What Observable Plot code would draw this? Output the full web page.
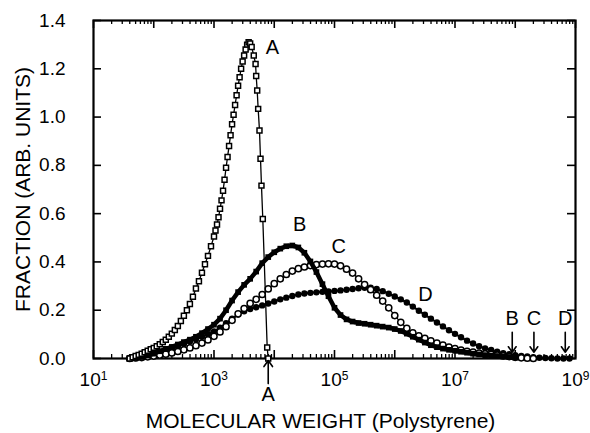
<!DOCTYPE html>
<html>
<head>
<meta charset="utf-8">
<script src="https://cdn.jsdelivr.net/npm/d3@7"></script>
<script src="https://cdn.jsdelivr.net/npm/@observablehq/plot@0.6"></script>
<style>
  html, body { margin: 0; padding: 0; background: #fff; }
</style>
</head>
<body>
<div id="chart"></div>
<script>
// ---- Data (log10 of molecular weight, fraction) ----
const logM_A = [1.60,1.65,1.70,1.75,1.80,1.85,1.90,1.95,2.00,2.05,2.10,2.15,2.20,2.25,2.30,2.35,2.40,2.45,2.50,2.55,2.60,2.65,2.70,2.75,2.80,2.85,2.90,2.95,3.00,
  3.025,3.05,3.075,3.10,3.125,3.15,3.175,3.20,3.225,3.25,3.275,3.30,3.325,3.35,3.375,3.40,3.425,3.45,3.475,3.50,3.525,3.55,3.575,3.60,
  3.625,3.66,3.69,3.70,3.717,3.733,3.755,3.772,3.788,3.81,3.883,3.90];
const frac_A = [0.000,0.005,0.010,0.015,0.020,0.026,0.032,0.038,0.044,0.051,0.059,0.068,0.078,0.090,0.103,0.118,0.135,0.155,0.177,0.200,0.226,0.256,0.290,0.320,0.355,0.390,0.425,0.465,0.505,
  0.530,0.555,0.585,0.620,0.655,0.695,0.740,0.790,0.835,0.880,0.925,0.970,1.010,1.050,1.090,1.130,1.165,1.200,1.230,1.255,1.280,1.300,1.310,1.305,
  1.290,1.255,1.220,1.170,1.110,1.034,0.944,0.827,0.716,0.578,0.046,0.000];

const logM_grid = [1.6,1.7,1.8,1.9,2.0,2.1,2.2,2.3,2.4,2.5,2.6,2.7,2.8,2.9,3.0,3.1,3.2,3.3,3.4,3.5,3.6,3.7,3.8,3.9,4.0,4.1,4.2,4.3,4.4,4.5,
  4.6,4.7,4.8,4.9,5.0,5.1,5.2,5.3,5.4,5.5,5.6,5.7,5.8,5.9,6.0,6.1,6.2,6.3,6.4,6.5,6.6,6.7,6.8,6.9,7.0,7.1,7.2,7.3,7.4,7.5,
  7.6,7.7,7.8,7.9,8.0,8.1,8.2,8.3,8.4,8.5,8.6,8.7,8.8,8.9];

const frac_B = [0.000,0.003,0.006,0.012,0.020,0.030,0.040,0.048,0.058,0.068,
  0.078,0.090,0.105,0.122,0.140,0.165,0.200,0.240,0.275,0.305,
  0.330,0.360,0.395,0.420,0.440,0.455,0.465,0.468,0.460,0.438,
  0.402,0.358,0.308,0.258,0.210,0.180,0.162,0.153,0.147,0.144,
  0.140,0.136,0.132,0.128,0.122,0.114,0.103,0.090,0.078,0.066,
  0.055,0.047,0.041,0.036,0.032,0.028,0.024,0.020,0.017,0.014,
  0.012,0.010,0.008,0.006,0.004];

const frac_C = [0.000,0.002,0.004,0.007,0.010,0.014,0.018,0.023,0.029,0.036,
  0.044,0.053,0.064,0.077,0.092,0.110,0.132,0.158,0.185,0.207,
  0.228,0.245,0.265,0.288,0.310,0.330,0.348,0.362,0.372,0.379,
  0.385,0.389,0.391,0.392,0.391,0.384,0.370,0.354,0.330,0.306,
  0.285,0.262,0.238,0.210,0.178,0.150,0.125,0.106,0.094,0.083,
  0.073,0.064,0.055,0.047,0.041,0.035,0.030,0.026,0.022,0.019,
  0.017,0.014,0.011,0.008,0.005,0.003,0.001,0.000];

const frac_D = [0.000,0.002,0.005,0.010,0.016,0.022,0.030,0.040,0.050,0.060,
  0.070,0.080,0.090,0.100,0.112,0.128,0.146,0.165,0.182,0.196,
  0.205,0.212,0.220,0.228,0.236,0.245,0.252,0.259,0.265,0.269,
  0.272,0.274,0.276,0.278,0.280,0.282,0.285,0.288,0.291,0.293,
  0.293,0.288,0.279,0.268,0.257,0.245,0.232,0.215,0.198,0.181,
  0.165,0.149,0.133,0.117,0.102,0.088,0.074,0.062,0.051,0.042,
  0.035,0.028,0.022,0.018,0.014,0.011,0.008,0.005,0.003,0.002,
  0.001,0.000,0.000,0.000];

// Exclusion-limit arrows (log10 M)
const arrowNames = ["A","B","C","D"];
const arrowLogM = [3.90, 7.95, 8.31, 8.83];

// Curve labels
const curveNames = ["A","B","C","D"];
const curveLabelLogM = [3.97, 4.42, 5.07, 6.51];
const curveLabelFrac = [1.288, 0.555, 0.464, 0.265];

// Ticks
const yTicks = [0.0,0.2,0.4,0.6,0.8,1.0,1.2,1.4];
const xLabelTicks = [1e1,1e3,1e5,1e7,1e9];
const decades = [1,2,3,4,5,6,7,8,9];

// ---- Build tables ----
const rows = (lg, fr) => fr.map((f, i) => ({M: 10 ** lg[i], f}));
const dataA = rows(logM_A, frac_A);
const dataB = rows(logM_grid, frac_B);
const dataC = rows(logM_grid, frac_C);
const dataD = rows(logM_grid, frac_D);
const arrows = arrowNames.map((n, i) => ({name: n, M: 10 ** arrowLogM[i]}));
const arrowUp = arrows.filter(d => d.name === "A");
const arrowDown = arrows.filter(d => d.name !== "A");
const labels = curveNames.map((n, i) => ({name: n, M: 10 ** curveLabelLogM[i], f: curveLabelFrac[i]}));
const majorX = decades.map(k => 10 ** k);
const minorX = [];
for (const k of decades.slice(0, -1)) for (let m = 2; m <= 9; m++) minorX.push(m * 10 ** k);

const W = 590, H = 433, mL = 93, mR = 15, mT = 20, mB = 75;
const pw = W - mL - mR, ph = H - mT - mB;

const chart = Plot.plot({
  width: W, height: H,
  marginLeft: mL, marginRight: mR, marginTop: mT, marginBottom: mB,
  style: {fontFamily: "'Liberation Sans', Arial, Helvetica, sans-serif", background: "#fff", color: "#000"},
  x: {type: "log", domain: [1e1, 1e9]},
  y: {domain: [0, 1.4]},
  marks: [
    // inward ticks
    Plot.ruleX(majorX, {x: d => d, insetTop: ph - 8, strokeWidth: 1.6}),
    Plot.ruleX(minorX, {x: d => d, insetTop: ph - 4, strokeWidth: 1.3}),
    Plot.ruleX(majorX, {x: d => d, insetBottom: ph - 8, strokeWidth: 1.6}),
    Plot.ruleX(minorX, {x: d => d, insetBottom: ph - 4, strokeWidth: 1.3}),
    Plot.ruleY(yTicks, {y: d => d, insetRight: pw - 8, strokeWidth: 1.6}),
    Plot.ruleY(yTicks, {y: d => d, insetLeft: pw - 8, strokeWidth: 1.6}),
    Plot.frame({strokeWidth: 2.2}),
    Plot.axisY(yTicks, {tickSize: 0, tickPadding: 28, tickFormat: d3.format(".1f"), fontSize: 19, label: null}),
    Plot.axisX(xLabelTicks, {tickSize: 0, tickPadding: 14, tickFormat: d => "10^" + Math.round(Math.log10(d)), fontSize: 19, label: null}),
    // curve D (filled circles)
    Plot.line(dataD, {x: "M", y: "f", stroke: "#000", strokeWidth: 2}),
    Plot.dot(dataD, {x: "M", y: "f", r: 3.2, fill: "#000", stroke: "none"}),
    // curve C (open circles)
    Plot.line(dataC, {x: "M", y: "f", stroke: "#000", strokeWidth: 1.2}),
    Plot.dot(dataC, {x: "M", y: "f", r: 3.1, fill: "#fff", stroke: "#000", strokeWidth: 1.5}),
    // curve B (filled squares)
    Plot.line(dataB, {x: "M", y: "f", stroke: "#000", strokeWidth: 4.5}),
    Plot.dot(dataB, {x: "M", y: "f", symbol: "square", r: 3.2, fill: "#000", stroke: "none"}),
    // curve A (open squares)
    Plot.line(dataA, {x: "M", y: "f", stroke: "#000", strokeWidth: 1.3}),
    Plot.dot(dataA, {x: "M", y: "f", symbol: "square", r: 2.8, fill: "#fff", stroke: "#000", strokeWidth: 1.5}),
    // curve labels
    Plot.text(labels, {x: "M", y: "f", text: "name", fontSize: 20, textAnchor: "middle", lineAnchor: "middle"}),
    // exclusion limit arrows
    Plot.arrow(arrowDown, {x1: "M", x2: "M", y1: 0.109, y2: 0.026, strokeWidth: 1.6, headLength: 7, headAngle: 70}),
    Plot.text(arrowDown, {x: "M", y: 0.166, text: "name", fontSize: 20, textAnchor: "middle", lineAnchor: "middle"}),
    Plot.arrow(arrowUp, {x1: "M", x2: "M", y1: -0.104, y2: -0.008, strokeWidth: 1.6, headLength: 7, headAngle: 70}),
    Plot.text(arrowUp, {x: "M", y: -0.151, text: "name", fontSize: 20, textAnchor: "middle", lineAnchor: "middle"}),
    // axis titles
    Plot.text(["FRACTION (ARB. UNITS)"], {frameAnchor: "left", rotate: -90, dx: -70, fontSize: 21, textAnchor: "middle", lineAnchor: "middle"}),
    Plot.text(["MOLECULAR WEIGHT (Polystyrene)"], {frameAnchor: "bottom", dx: -14, dy: 63, fontSize: 21, textAnchor: "middle", lineAnchor: "middle"})
  ]
});

// superscript exponents on the x tick labels
chart.querySelectorAll("text").forEach(t => {
  const m = /^10\^(\d+)$/.exec(t.textContent);
  if (m) {
    t.textContent = "10";
    const ts = document.createElementNS("http://www.w3.org/2000/svg", "tspan");
    ts.setAttribute("dy", "-6");
    ts.setAttribute("font-size", "12");
    ts.textContent = m[1];
    t.appendChild(ts);
  }
});

document.getElementById("chart").appendChild(chart);
</script>
</body>
</html>
